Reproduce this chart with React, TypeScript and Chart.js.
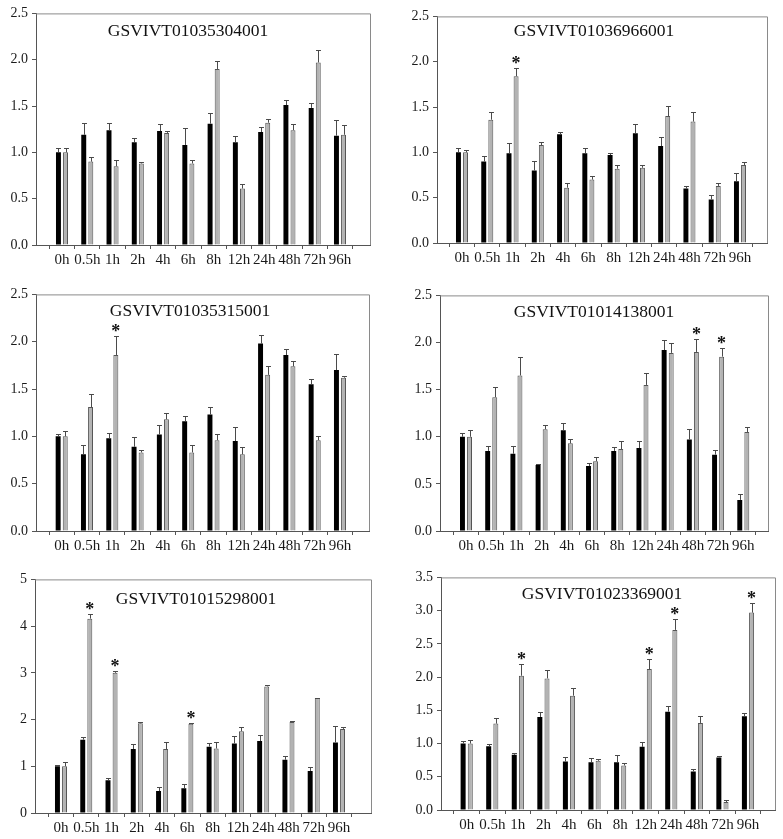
import React, { useEffect, useRef } from "react";
import { Chart, registerables } from "chart.js";
Chart.register(...registerables);

const timeLabels = ["0h", "0.5h", "1h", "2h", "4h", "6h", "8h", "12h", "24h", "48h", "72h", "96h"];

// Panel 1
const p1Title = "GSVIVT01035304001";
const p1Black = [1.0, 1.19, 1.24, 1.11, 1.23, 1.08, 1.31, 1.11, 1.22, 1.51, 1.48, 1.18];
const p1BlackErr = [0.05, 0.13, 0.08, 0.05, 0.08, 0.18, 0.11, 0.07, 0.05, 0.06, 0.05, 0.17];
const p1Gray = [1.0, 0.9, 0.85, 0.88, 1.21, 0.88, 1.9, 0.61, 1.32, 1.24, 1.97, 1.19];
const p1GrayErr = [0.05, 0.05, 0.07, 0.02, 0.02, 0.04, 0.09, 0.05, 0.04, 0.07, 0.14, 0.1];
const p1Stars: number[] = [];
const p1Max = 2.5;
const p1Step = 0.5;

// Panel 2
const p2Title = "GSVIVT01036966001";
const p2Black = [1.0, 0.9, 0.99, 0.8, 1.2, 0.99, 0.97, 1.21, 1.07, 0.6, 0.48, 0.68];
const p2BlackErr = [0.05, 0.06, 0.11, 0.1, 0.03, 0.06, 0.02, 0.1, 0.1, 0.03, 0.05, 0.09];
const p2Gray = [1.0, 1.36, 1.84, 1.08, 0.61, 0.7, 0.82, 0.83, 1.4, 1.34, 0.63, 0.86];
const p2GrayErr = [0.03, 0.09, 0.09, 0.03, 0.05, 0.04, 0.04, 0.03, 0.11, 0.11, 0.03, 0.03];
const p2Stars = [2];
const p2Max = 2.5;
const p2Step = 0.5;

// Panel 3
const p3Title = "GSVIVT01035315001";
const p3Black = [1.0, 0.81, 0.98, 0.89, 1.02, 1.16, 1.23, 0.95, 1.98, 1.86, 1.55, 1.7];
const p3BlackErr = [0.03, 0.1, 0.06, 0.1, 0.1, 0.06, 0.08, 0.15, 0.09, 0.06, 0.06, 0.17];
const p3Gray = [1.0, 1.31, 1.86, 0.83, 1.18, 0.83, 0.96, 0.81, 1.65, 1.74, 0.96, 1.62];
const p3GrayErr = [0.06, 0.14, 0.2, 0.03, 0.07, 0.08, 0.06, 0.08, 0.09, 0.06, 0.04, 0.02];
const p3Stars = [2];
const p3Max = 2.5;
const p3Step = 0.5;

// Panel 4
const p4Title = "GSVIVT01014138001";
const p4Black = [1.0, 0.85, 0.82, 0.7, 1.07, 0.69, 0.85, 0.88, 1.92, 0.97, 0.81, 0.33];
const p4BlackErr = [0.04, 0.05, 0.08, 0.01, 0.08, 0.03, 0.04, 0.07, 0.11, 0.11, 0.05, 0.06];
const p4Gray = [1.0, 1.42, 1.65, 1.08, 0.93, 0.74, 0.87, 1.55, 1.89, 1.9, 1.85, 1.05];
const p4GrayErr = [0.07, 0.11, 0.2, 0.05, 0.05, 0.04, 0.09, 0.13, 0.1, 0.14, 0.09, 0.05];
const p4Stars = [9, 10];
const p4Max = 2.5;
const p4Step = 0.5;

// Panel 5
const p5Title = "GSVIVT01015298001";
const p5Black = [1.0, 1.57, 0.7, 1.37, 0.47, 0.53, 1.42, 1.49, 1.54, 1.14, 0.9, 1.51];
const p5BlackErr = [0.03, 0.05, 0.04, 0.11, 0.08, 0.1, 0.07, 0.15, 0.14, 0.09, 0.09, 0.36];
const p5Gray = [1.0, 4.16, 3.0, 1.92, 1.37, 1.91, 1.38, 1.75, 2.71, 1.95, 2.46, 1.8];
const p5GrayErr = [0.09, 0.1, 0.03, 0.03, 0.14, 0.01, 0.13, 0.09, 0.04, 0.02, 0.01, 0.04];
const p5Stars = [1, 2, 5];
const p5Max = 5;
const p5Step = 1;

// Panel 6
const p6Title = "GSVIVT01023369001";
const p6Black = [1.0, 0.96, 0.83, 1.4, 0.73, 0.72, 0.72, 0.95, 1.48, 0.58, 0.79, 1.41];
const p6BlackErr = [0.04, 0.04, 0.03, 0.08, 0.07, 0.06, 0.11, 0.07, 0.09, 0.04, 0.03, 0.05];
const p6Gray = [1.0, 1.3, 2.02, 1.98, 1.72, 0.74, 0.67, 2.12, 2.71, 1.31, 0.12, 2.97];
const p6GrayErr = [0.05, 0.08, 0.17, 0.13, 0.11, 0.02, 0.04, 0.15, 0.17, 0.1, 0.03, 0.15];
const p6Stars = [2, 7, 8, 11];
const p6Max = 3.5;
const p6Step = 0.5;

// ---- layout (page pixel geometry of each plot area) ----
type Geo = { L: number; T: number; R: number; B: number; first: number; last: number; tdx: number; tdy: number };
const geo: Geo[] = [
  { L: 36, T: 11, R: 370, B: 245, first: 62, last: 340, tdx: 152, tdy: 18 },
  { L: 437, T: 14, R: 767, B: 243, first: 462, last: 740, tdx: 157, tdy: 15 },
  { L: 36, T: 292, R: 369, B: 531, first: 61.7, last: 340, tdx: 154, tdy: 17 },
  { L: 440, T: 293, R: 768, B: 531, first: 466, last: 743.3, tdx: 154, tdy: 17 },
  { L: 35, T: 577, R: 371, B: 813, first: 61, last: 339, tdx: 161, tdy: 20 },
  { L: 441, T: 575, R: 775, B: 810, first: 466.7, last: 748, tdx: 161, tdy: 17.5 },
];

const YW = 35;
const PT = 10;
const PR = 6;
const XH = 28;
const FONT = "'Liberation Serif', 'Times New Roman', serif";

type PanelData = {
  title: string;
  black: number[];
  blackErr: number[];
  gray: number[];
  grayErr: number[];
  stars: number[];
  max: number;
  step: number;
};

const panels: PanelData[] = [
  { title: p1Title, black: p1Black, blackErr: p1BlackErr, gray: p1Gray, grayErr: p1GrayErr, stars: p1Stars, max: p1Max, step: p1Step },
  { title: p2Title, black: p2Black, blackErr: p2BlackErr, gray: p2Gray, grayErr: p2GrayErr, stars: p2Stars, max: p2Max, step: p2Step },
  { title: p3Title, black: p3Black, blackErr: p3BlackErr, gray: p3Gray, grayErr: p3GrayErr, stars: p3Stars, max: p3Max, step: p3Step },
  { title: p4Title, black: p4Black, blackErr: p4BlackErr, gray: p4Gray, grayErr: p4GrayErr, stars: p4Stars, max: p4Max, step: p4Step },
  { title: p5Title, black: p5Black, blackErr: p5BlackErr, gray: p5Gray, grayErr: p5GrayErr, stars: p5Stars, max: p5Max, step: p5Step },
  { title: p6Title, black: p6Black, blackErr: p6BlackErr, gray: p6Gray, grayErr: p6GrayErr, stars: p6Stars, max: p6Max, step: p6Step },
];

function Panel({ d, g }: { d: PanelData; g: Geo }) {
  const ref = useRef<HTMLCanvasElement>(null);
  const left = g.L - YW;
  const top = g.T - PT;
  const w = g.R + PR - left;
  const h = g.B + XH - top;
  const sp = (g.last - g.first) / 11;
  const xMin = -(g.first - g.L) / sp;
  const xMax = 11 + (g.R - g.last) / sp;

  useEffect(() => {
    const errs = [d.blackErr, d.grayErr];
    const vals = [d.black, d.gray];
    const decorations = {
      id: "decor",
      afterDatasetsDraw(chart: any) {
        const ctx = chart.ctx;
        const ca = chart.chartArea;
        const ys = chart.scales.y;
        ctx.save();
        // frame top/right
        ctx.strokeStyle = "#8a8a8a";
        ctx.lineWidth = 1;
        ctx.beginPath();
        ctx.moveTo(ca.left, ca.top + 0.5);
        ctx.lineTo(ca.right + 0.5, ca.top + 0.5);
        ctx.lineTo(ca.right + 0.5, ca.bottom);
        ctx.stroke();
        // error bars
        ctx.strokeStyle = "#4a4a4a";
        for (let di = 0; di < 2; di++) {
          const meta = chart.getDatasetMeta(di);
          meta.data.forEach((bar: any, i: number) => {
            const yTop = ys.getPixelForValue(vals[di][i] + errs[di][i]);
            const x = Math.round(bar.x) + 0.5;
            const hw = bar.width / 2;
            ctx.beginPath();
            ctx.moveTo(x, bar.y);
            ctx.lineTo(x, Math.round(yTop) + 0.5);
            ctx.moveTo(x - hw, Math.round(yTop) + 0.5);
            ctx.lineTo(x + hw, Math.round(yTop) + 0.5);
            ctx.stroke();
          });
        }
        // stars
        const gm = chart.getDatasetMeta(1);
        ctx.fillStyle = "#111";
        ctx.font = `bold 18px ${FONT}`;
        ctx.textAlign = "center";
        ctx.textBaseline = "alphabetic";
        d.stars.forEach((i) => {
          const bar: any = gm.data[i];
          const yTop = ys.getPixelForValue(d.gray[i] + d.grayErr[i]);
          ctx.fillText("*", bar.x, yTop + 1);
        });
        // title
        ctx.font = `17.5px ${FONT}`;
        ctx.textBaseline = "middle";
        ctx.fillText(d.title, ca.left + g.tdx, ca.top + g.tdy);
        ctx.restore();
      },
    };

    const chart = new Chart(ref.current as HTMLCanvasElement, {
      type: "bar",
      data: {
        datasets: [
          {
            label: "black",
            data: d.black.map((v, i) => ({ x: i, y: v })),
            backgroundColor: "#000000",
            borderColor: "#000000",
            borderWidth: 0,
          },
          {
            label: "gray",
            data: d.gray.map((v, i) => ({ x: i, y: v })),
            backgroundColor: "#b3b3b3",
            borderColor: "#555555",
            borderWidth: 1,
          },
        ],
      },
      options: {
        animation: false,
        responsive: false,
        devicePixelRatio: 1,
        layout: { padding: { top: PT, right: PR, left: 0, bottom: 0 } },
        plugins: { legend: { display: false }, tooltip: { enabled: false } },
        datasets: { bar: { categoryPercentage: 0.56, barPercentage: 0.7 } },
        scales: {
          x: {
            type: "linear",
            min: xMin,
            max: xMax,
            offset: false,
            afterBuildTicks: (scale: any) => {
              scale.ticks = timeLabels.map((_, i) => ({ value: i }));
            },
            afterFit: (scale: any) => {
              scale.height = XH;
            },
            ticks: {
              autoSkip: false,
              maxRotation: 0,
              minRotation: 0,
              padding: 2,
              color: "#1a1a1a",
              font: { family: FONT, size: 15 },
              callback: (v: any) => timeLabels[Math.round(Number(v))] ?? "",
            },
            grid: { drawOnChartArea: false, drawTicks: true, tickLength: 4, color: "#555555" },
            border: { display: true, color: "#555555", width: 1 },
          },
          y: {
            min: 0,
            max: d.max,
            afterFit: (scale: any) => {
              scale.width = YW;
            },
            ticks: {
              stepSize: d.step,
              padding: 4,
              color: "#1a1a1a",
              font: { family: FONT, size: 14 },
              callback: (v: any) => (d.step < 1 ? Number(v).toFixed(1) : String(Math.round(Number(v)))),
            },
            grid: { drawOnChartArea: false, drawTicks: true, tickLength: 4, color: "#555555" },
            border: { display: true, color: "#555555", width: 1 },
          },
        },
      },
      plugins: [decorations],
    } as any);
    return () => chart.destroy();
  }, []);

  return (
    <canvas
      ref={ref}
      width={w}
      height={h}
      style={{ position: "absolute", left, top, width: w, height: h }}
    />
  );
}

export default function App() {
  return (
    <div style={{ position: "absolute", left: 0, top: 0, width: 783, height: 839, background: "#fff" }}>
      {panels.map((d, i) => (
        <Panel key={i} d={d} g={geo[i]} />
      ))}
    </div>
  );
}
